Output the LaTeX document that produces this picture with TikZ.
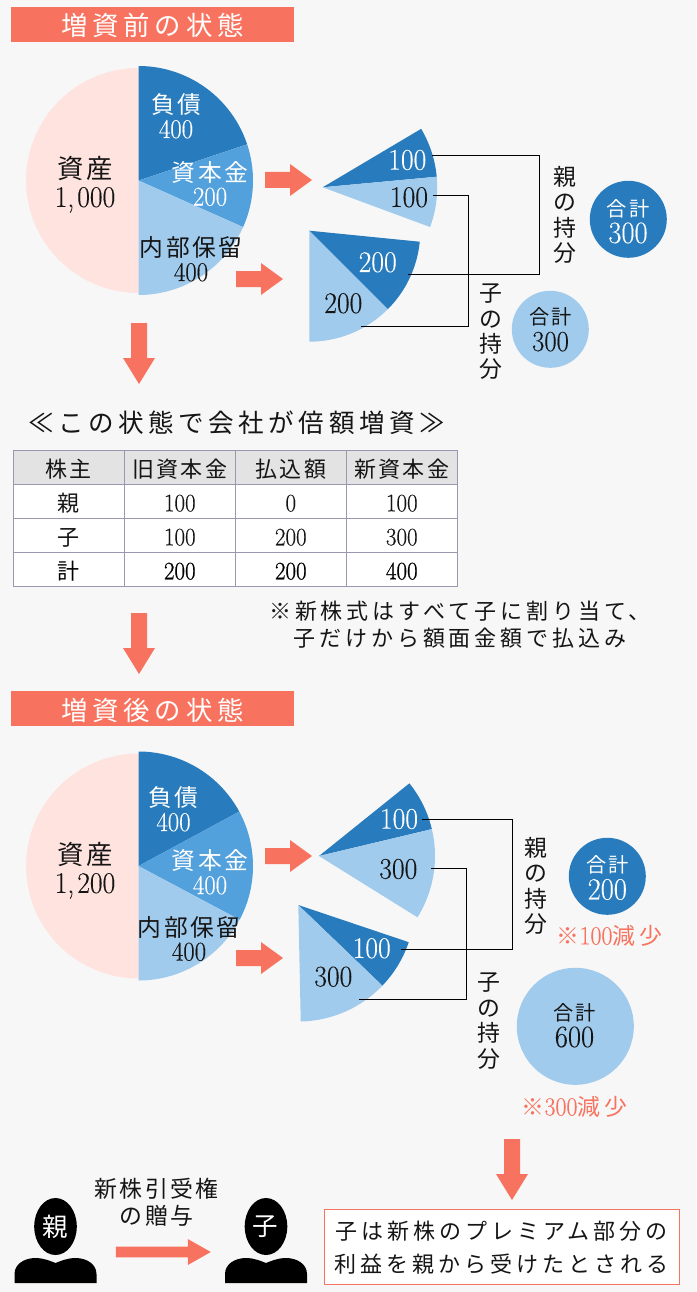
\documentclass[tikz,border=0pt]{standalone}
\usepackage{fontspec}
\setmainfont[FakeStretch=0.92,FakeBold=0.25]{Latin Modern Roman}
\newfontfamily\jpn[LetterSpace=10,Scale=0.88]{Noto Sans CJK JP}
\newfontfamily\jpw[LetterSpace=18,Scale=0.88]{Noto Sans CJK JP}
\newfontfamily\numb[FakeStretch=0.92,FakeBold=0.8]{Latin Modern Roman}
\newcommand\J[1]{{\jpn #1}}
\newcommand\W[1]{{\jpw #1}}
\newcommand\Sm[1]{{\fontsize{23}{26}\selectfont\jpn #1}}
\definecolor{bgc}{HTML}{F7F7F7}
\definecolor{dk}{HTML}{287BBC}
\definecolor{md}{HTML}{52A0DC}
\definecolor{lt}{HTML}{A1CBED}
\definecolor{pk}{HTML}{FFE3DF}
\definecolor{sal}{HTML}{F8735F}
\definecolor{ink}{HTML}{151515}
\definecolor{grid}{HTML}{9A97AF}
\definecolor{hd}{HTML}{E3E3E3}
\newcommand\sector[6]{\fill[#1] (#2,#3) -- plot[domain=#5:#6,samples=48] ({#2+#4*cos(\x)},{#3+#4*sin(\x)}) -- cycle;}
\newcommand\rarrow[4]{\fill[sal] (#1,#4-8) -- (#2,#4-8) -- (#2,#4-16) -- (#3,#4) -- (#2,#4+16) -- (#2,#4+8) -- (#1,#4+8) -- cycle;}
\newcommand\darrow[2]{\fill[sal] (#1-8,#2) -- (#1+8,#2) -- (#1+8,#2+35) -- (#1+16,#2+35) -- (#1,#2+61) -- (#1-16,#2+35) -- (#1-8,#2+35) -- cycle;}
\newcommand\person[1]{\fill[black] (#1,1226.5) ellipse[x radius=21.3,y radius=28.5];
 \fill[black] (#1-41,1283) -- (#1-41,1274) .. controls (#1-41,1264) and (#1-31,1258) .. (#1-20,1258) .. controls (#1-12,1258) and (#1-5,1261) .. (#1,1263) .. controls (#1+5,1261) and (#1+12,1258) .. (#1+20,1258) .. controls (#1+31,1258) and (#1+41,1264) .. (#1+41,1274) -- (#1+41,1283) -- cycle;}
\tikzset{
 x=1pt,y=-1pt,
 txt/.style={inner sep=0,outer sep=0,align=center,text=ink},
 wht/.style={txt,text=white},
 lab/.style={font=\fontsize{27}{24.5}\selectfont},
 big/.style={font=\fontsize{30}{28.5}\selectfont},
 fan/.style={font=\fontsize{30}{30}\selectfont},
 tate/.style={txt,font=\fontsize{26}{25.4}\selectfont},
 sum/.style={font=\fontsize{31}{26.5}\selectfont},
 sums/.style={font=\fontsize{29}{26.5}\selectfont},
 conn/.style={draw=black,line width=0.9pt},
 banner/.style={fill=sal,text=white,inner sep=0,minimum width=283,minimum height=35,text height=23,text depth=0,font=\fontsize{30}{30}\selectfont},
 cell/.style={draw=grid,line width=0.9pt,fill=white,minimum width=111,minimum height=34,inner sep=0,text height=19.5,text depth=0,text=ink,font=\fontsize{25}{26}\selectfont},
 hcell/.style={cell,fill=hd},
 note/.style={txt,text=sal,font=\fontsize{26}{26}\selectfont},
 body/.style={txt,font=\fontsize{25}{27}\selectfont},
}
\begin{document}
\begin{tikzpicture}
\lineskiplimit=-20pt\relax
\fill[bgc] (0,0) rectangle (696,1292);
\useasboundingbox (0,0) rectangle (696,1292);

\node[banner] (head1) at (152.5,24.5) {\W{増資前の状態}};

% --- first main pie
\sector{pk}{138.5}{180.5}{112.5}{90}{270}
\sector{dk}{138.5}{180.5}{114.5}{-90}{-18.4}
\sector{md}{138.5}{180.5}{114.5}{-18.4}{24}
\sector{lt}{138.5}{180.5}{114.5}{24}{90}
\node[txt,big] (a1) at (85,184.5) {\J{資産}\\1,\kern3pt 000};
\node[wht,lab] (a2) at (176,116) {\J{負債}\\400};
\node[wht,lab] (a3) at (210,183.5) {\J{資本金}\\200};
\node[txt,lab] (a4) at (191,259) {\J{内部保留}\\400};
\rarrow{265}{290}{312}{180}
\rarrow{236}{261}{283}{279}

% --- first fans
\sector{dk}{322.7}{187.3}{114.5}{-30.7}{-5.3}
\sector{lt}{322.7}{187.3}{114.5}{-5.3}{20.3}
\sector{dk}{309.3}{230.7}{111}{5.7}{45}
\sector{lt}{309.3}{230.7}{111}{45}{90}
\node[wht,fan] (f1) at (407.3,160) {100};
\node[txt,fan] (f2) at (409,197.3) {100};
\node[wht,fan] (f3) at (377.7,262.3) {200};
\node[txt,fan] (f4) at (343.3,303.3) {200};
\coordinate (c1a) at (431.7,155);
\coordinate (c1b) at (539.3,155);
\coordinate (c1c) at (539.3,274.3);
\coordinate (c1d) at (408.3,274.3);
\coordinate (c2a) at (433.3,195.3);
\coordinate (c2b) at (468.3,195.3);
\coordinate (c2c) at (468.3,326);
\coordinate (c2d) at (361,326);
\draw[conn] (c1a) -- (c1b) -- (c1c) -- (c1d);
\draw[conn] (c2a) -- (c2b) -- (c2c) -- (c2d);
\node[tate] (t1) at (565,215) {\J{親}\\\J{の}\\\J{持}\\\J{分}};
\node[tate] (t2) at (491,332) {\J{子}\\\J{の}\\\J{持}\\\J{分}};
\node[circle,fill=dk,minimum size=77,inner sep=0] (s1) at (628.3,219.3) {};
\node[circle,fill=lt,minimum size=77,inner sep=0] (s2) at (550.3,329.3) {};
\node[wht,sum] (s1t) at (628,221.5) {\Sm{合計}\\300};
\node[txt,sums] (s2t) at (550.5,329.5) {\Sm{合計}\\300};

\darrow{139}{323}

% --- middle
\node[txt,font=\fontsize{29}{30}\selectfont] (mid) at (236.5,423) {\W{≪この状態で会社が倍額増資≫}};
\node[hcell] (h1) at (68.8,467.5) {\J{株主}};
\node[hcell] (h2) at (179.8,467.5) {\J{旧資本金}};
\node[hcell] (h3) at (290.8,467.5) {\J{払込額}};
\node[hcell] (h4) at (401.8,467.5) {\J{新資本金}};
\node[cell] (r1) at (68.8,501.5) {\J{親}};
\node[cell] (r2) at (179.8,501.5) {100};
\node[cell] (r3) at (290.8,501.5) {0};
\node[cell] (r4) at (401.8,501.5) {100};
\node[cell] (q1) at (68.8,535.5) {\J{子}};
\node[cell] (q2) at (179.8,535.5) {100};
\node[cell] (q3) at (290.8,535.5) {200};
\node[cell] (q4) at (401.8,535.5) {300};
\node[cell,text=black] (u1) at (68.8,569.5) {\J{計}};
\node[cell,text=black] (u2) at (179.8,569.5) {\numb 200};
\node[cell,text=black] (u3) at (290.8,569.5) {\numb 200};
\node[cell,text=black] (u4) at (401.8,569.5) {\numb 400};
\node[body] (nt) at (460,624.5) {\W{※新株式はすべて子に割り当て、}\\\W{子だけから額面金額で払込み}};
\darrow{139}{613}

\node[banner] (head2) at (152.5,708.5) {\W{増資後の状態}};

% --- second main pie
\sector{pk}{138.5}{866}{112.5}{90}{270}
\sector{dk}{138.5}{866}{114.5}{-90}{-28.4}
\sector{md}{138.5}{866}{114.5}{-28.4}{28}
\sector{lt}{138.5}{866}{114.5}{28}{90}
\node[txt,big] (b1) at (85,870.5) {\J{資産}\\1,\kern3pt 200};
\node[wht,lab] (b2) at (173.5,809) {\J{負債}\\400};
\node[wht,lab] (b3) at (210,872) {\J{資本金}\\400};
\node[txt,lab] (b4) at (189,938.5) {\J{内部保留}\\400};
\rarrow{265}{290}{312}{856}
\rarrow{236}{261}{283}{958}

% --- second fans
\sector{dk}{319}{856}{116}{-38.8}{-13.4}
\sector{lt}{319}{856}{116}{-13.4}{31.9}
\sector{dk}{298.3}{905}{116.5}{18.6}{43.8}
\sector{lt}{298.3}{905}{116.5}{43.8}{88.8}
\node[wht,fan] (g1) at (399,819) {100};
\node[txt,fan] (g2) at (398.3,869) {300};
\node[wht,fan] (g3) at (371.7,948.3) {100};
\node[txt,fan] (g4) at (333.3,976.7) {300};
\coordinate (d1a) at (422.3,819.3);
\coordinate (d1b) at (512.3,819.3);
\coordinate (d1c) at (512.3,949.3);
\coordinate (d1d) at (401,949.3);
\coordinate (d2a) at (431,868.3);
\coordinate (d2b) at (466,868.3);
\coordinate (d2c) at (466,999.3);
\coordinate (d2d) at (359,999.3);
\draw[conn] (d1a) -- (d1b) -- (d1c) -- (d1d);
\draw[conn] (d2a) -- (d2b) -- (d2c) -- (d2d);
\node[tate] (t3) at (535.7,886) {\J{親}\\\J{の}\\\J{持}\\\J{分}};
\node[tate] (t4) at (489.3,1021) {\J{子}\\\J{の}\\\J{持}\\\J{分}};
\node[circle,fill=dk,minimum size=77,inner sep=0] (s3) at (607.3,876.3) {};
\node[circle,fill=lt,minimum size=117,inner sep=0] (s4) at (575.3,1026.3) {};
\node[wht,sum] (s3t) at (607.3,878) {\Sm{合計}\\200};
\node[txt,sum] (s4t) at (574.5,1025.5) {\Sm{合計}\\600};
\node[note] (n1) at (609.5,935.7) {\W{※}100\W{減少}};
\node[note] (n2) at (574.5,1106.7) {\W{※}300\W{減少}};

\darrow{512}{1139}

% --- bottom
\person{55.5}
\person{266}
\node[wht,font=\fontsize{29}{30}\selectfont] (oya) at (55.5,1227) {\J{親}};
\node[wht,font=\fontsize{29}{30}\selectfont] (ko) at (265,1227) {\J{子}};
\node[body,font=\fontsize{26}{27}\selectfont] (gift) at (156.5,1202) {\J{新株引受権}\\\J{の贈与}};
\fill[sal] (115.8,1246.7) -- (187.8,1246.7) -- (187.8,1239) -- (210.8,1252) -- (187.8,1265) -- (187.8,1257.3) -- (115.8,1257.3) -- cycle;
\node[draw=sal,line width=0.9pt,fill=white,minimum width=355,minimum height=75,inner sep=0] (box) at (501.5,1246.5) {};
\node[body,font=\fontsize{25}{33}\selectfont] (boxt) at (501.5,1248) {\W{子は新株のプレミアム部分の}\\\W{利益を親から受けたとされる}};
\end{tikzpicture}
\end{document}
